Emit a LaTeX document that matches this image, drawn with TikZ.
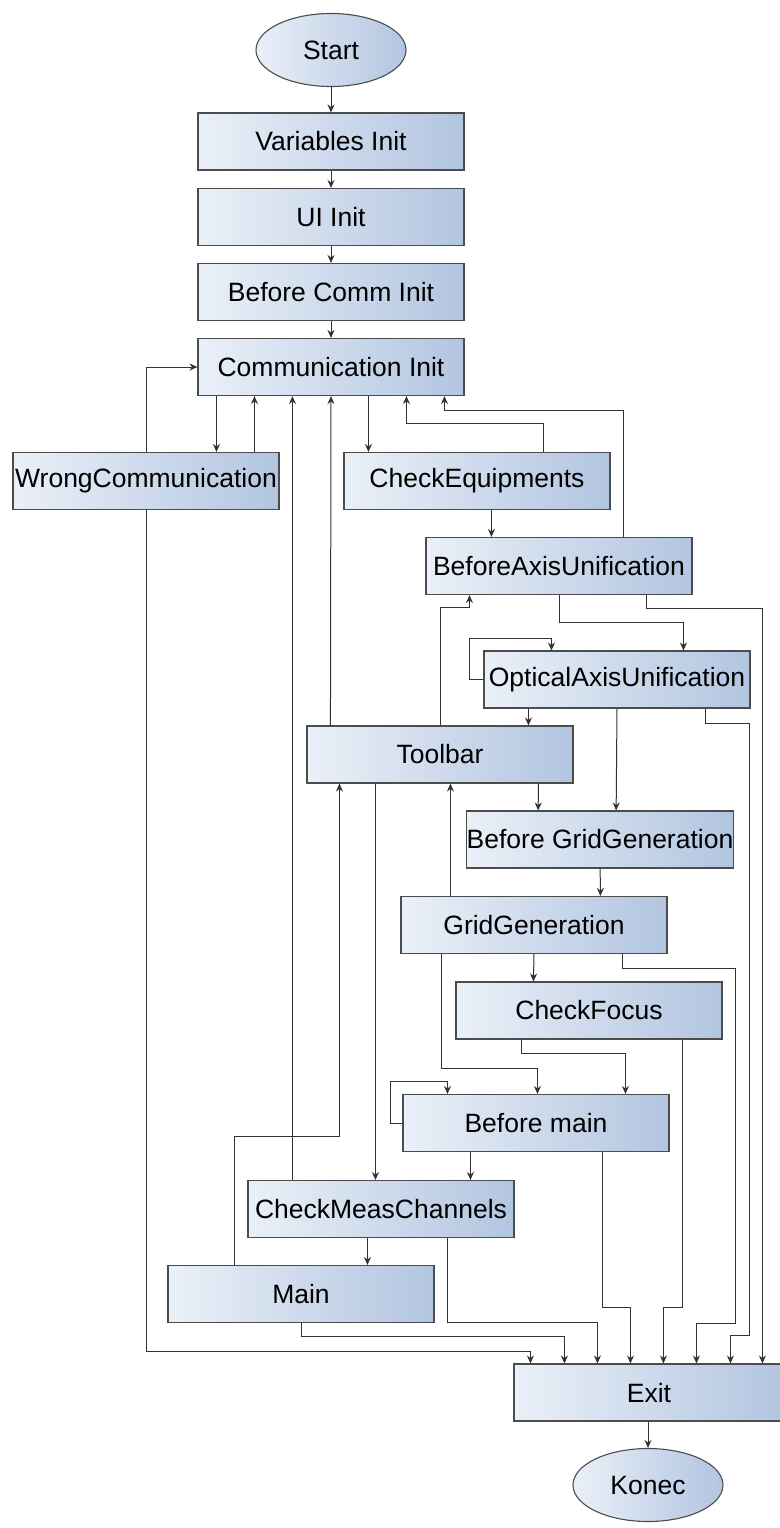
\documentclass[tikz,border=0pt]{standalone}
\usepackage{fontspec}
\setmainfont{Liberation Sans}
\usetikzlibrary{shapes.geometric,arrows.meta}

\definecolor{shadeL}{RGB}{234,240,248}
\definecolor{shadeR}{RGB}{178,197,224}

\tikzstyle{block} = [rectangle, draw=black!70, line width=1.1pt, left color=shadeL, right color=shadeR, minimum width=266pt, minimum height=57pt, inner sep=0pt, font=\fontsize{26.5}{30}\selectfont]
\tikzstyle{term} = [ellipse, draw=black!70, line width=1.1pt, left color=shadeL, right color=shadeR, minimum width=150pt, minimum height=73pt, inner sep=0pt, font=\fontsize{26.5}{30}\selectfont]
\tikzstyle{arr} = [draw=black!80, line width=1pt, -{Stealth[length=8pt,width=7pt]}]

\begin{document}
\begin{tikzpicture}[x=1pt,y=-1pt]
      \useasboundingbox (0,0) rectangle (779,1528);

      \node[term] (start) at (331,50) {Start};
      \node[block] (var) at (331,141.5) {Variables Init};
      \node[block] (ui) at (331,217) {UI Init};
      \node[block] (bc) at (331,292) {Before Comm Init};
      \node[block] (comm) at (331,367) {Communication Init};
      \node[block] (wc) at (146,481) {WrongCommunication};
      \node[block] (ce) at (477,481) {CheckEquipments};
      \node[block] (bau) at (559,566) {BeforeAxisUnification};
      \node[block] (oau) at (617,679.5) {OpticalAxisUnification};
      \node[block] (tb) at (440,754.5) {Toolbar};
      \node[block] (bgg) at (600,839.5) {Before GridGeneration};
      \node[block] (gg) at (534,925) {GridGeneration};
      \node[block] (cf) at (589,1010.5) {CheckFocus};
      \node[block] (bm) at (536,1123) {Before main};
      \node[block] (cmc) at (381,1209) {CheckMeasChannels};
      \node[block] (main) at (301,1294) {Main};
      \node[block, minimum width=270pt] (exit) at (649,1392.5) {Exit};
      \node[term] (konec) at (648,1485) {Konec};

      % init chain
      \draw[arr] (start) -- (var);
      \draw[arr] (var) -- (ui);
      \draw[arr] (ui) -- (bc);
      \draw[arr] (bc) -- (comm);

      % communication
      \draw[arr] ([xshift=19pt]comm.south west) -- ([xshift=204pt]wc.north west);
      \draw[arr] ([xshift=242pt]wc.north west) -- ([xshift=57pt]comm.south west);
      \draw[arr] (wc.north) |- (comm.west);
      \draw[arr] ([xshift=171pt]comm.south west) -- ([xshift=25pt]ce.north west);
      \draw[arr] ([xshift=200pt]ce.north west) -- ++(0,-28) -| ([xshift=209pt]comm.south west);
      \draw[arr] ([xshift=198pt]bau.north west) -- ++(0,-126) -| ([xshift=247pt]comm.south west);
      \draw[arr] ([xshift=148pt]ce.south west) -- ([xshift=66pt]bau.north west);
      \draw[arr] ([xshift=24pt]tb.north west) -- (comm.south);
      \draw[arr] ([xshift=45pt]cmc.north west) -- ([xshift=95pt]comm.south west);

      % axis unification
      \draw[arr] (tb.north) -- ++(0,-118) -| ([xshift=44pt]bau.south west);
      \draw[arr] (bau.south) -- ++(0,27) -| ([xshift=200pt]oau.north west);
      \draw[arr] ([xshift=221pt]bau.south west) -- ++(0,13) -| ([xshift=249pt]exit.north west);
      \draw[arr] (oau.west) -| ++(-14,-41.5) -| ([xshift=68pt]oau.north west);
      \draw[arr] ([xshift=45pt]oau.south west) -- ([xshift=222pt]tb.north west);
      \draw[arr] (oau.south) -- ([xshift=150pt]bgg.north west);
      \draw[arr] ([xshift=222pt]oau.south west) -- ++(0,15) -| ++(44,612) -| ([xshift=217pt]exit.north west);

      % toolbar and grid
      \draw[arr] ([xshift=232pt]tb.south west) -- ([xshift=72pt]bgg.north west);
      \draw[arr] ([xshift=69pt]tb.south west) -- ([xshift=128pt]cmc.north west);
      \draw[arr] ([xshift=134pt]bgg.south west) -- ([xshift=200pt]gg.north west);
      \draw[arr] ([xshift=50pt]gg.north west) -- ([xshift=144pt]tb.south west);
      \draw[arr] (gg.south) -- ([xshift=78pt]cf.north west);
      \draw[arr] ([xshift=41pt]gg.south west) -- ++(0,114) -| ([xshift=135pt]bm.north west);
      \draw[arr] ([xshift=222pt]gg.south west) -- ++(0,14) -| ++(113,355) -| ([xshift=183pt]exit.north west);

      % focus and main
      \draw[arr] ([xshift=66pt]cf.south west) -- ++(0,14) -| ([xshift=223pt]bm.north west);
      \draw[arr] ([xshift=227pt]cf.south west) -- ++(0,268) -| ([xshift=150pt]exit.north west);
      \draw[arr] (bm.west) -| ++(-12,-42) -| ([xshift=45pt]bm.north west);
      \draw[arr] ([xshift=68pt]bm.south west) -- ([xshift=223pt]cmc.north west);
      \draw[arr] ([xshift=200pt]bm.south west) -- ++(0,155) -| ([xshift=117pt]exit.north west);
      \draw[arr] ([xshift=120pt]cmc.south west) -- ([xshift=200pt]main.north west);
      \draw[arr] ([xshift=200pt]cmc.south west) -- ++(0,84) -| ([xshift=84pt]exit.north west);
      \draw[arr] ([xshift=67pt]main.north west) -- ++(0,-128) -| ([xshift=33pt]tb.south west);
      \draw[arr] (main.south) -- ++(0,13) -| ([xshift=51pt]exit.north west);
      \draw[arr] (wc.south) -- ++(0,841) -| ([xshift=17pt]exit.north west);

      \draw[arr] (exit.south -| konec.north) -- (konec);
    \end{tikzpicture}
\end{document}
